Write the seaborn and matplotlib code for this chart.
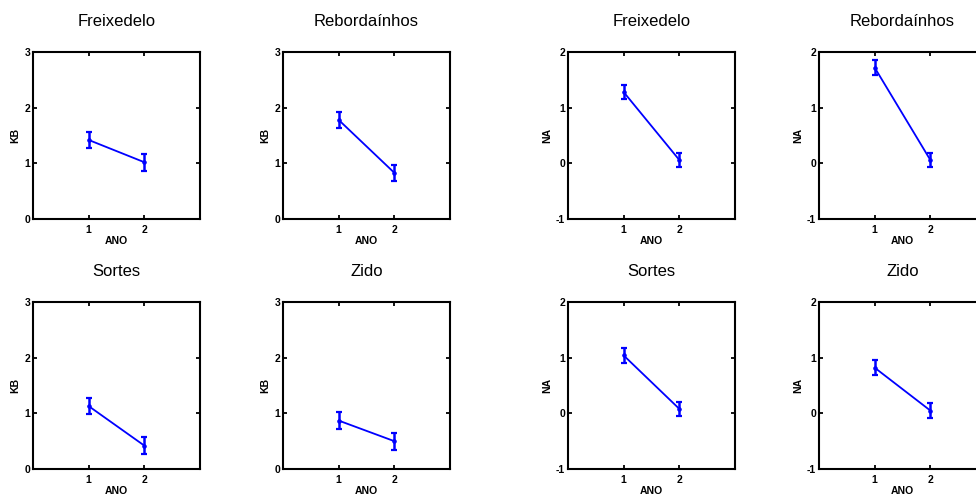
import matplotlib
matplotlib.use('Agg')
import matplotlib.pyplot as plt
import seaborn as sns
import pandas as pd
import numpy as np

# data
years = [1, 2]
sites = ['Freixedelo', 'Rebordaínhos', 'Sortes', 'Zido']

kb_mean = {
    'Freixedelo': [1.42, 1.02],
    'Rebordaínhos': [1.78, 0.83],
    'Sortes': [1.13, 0.42],
    'Zido': [0.87, 0.50],
}
kb_err = {
    'Freixedelo': [0.15, 0.155],
    'Rebordaínhos': [0.15, 0.145],
    'Sortes': [0.15, 0.15],
    'Zido': [0.15, 0.15],
}
na_mean = {
    'Freixedelo': [1.28, 0.06],
    'Rebordaínhos': [1.72, 0.06],
    'Sortes': [1.04, 0.08],
    'Zido': [0.82, 0.05],
}
na_err = {
    'Freixedelo': [0.13, 0.13],
    'Rebordaínhos': [0.14, 0.13],
    'Sortes': [0.13, 0.125],
    'Zido': [0.13, 0.13],
}

sns.set_style('ticks')
plt.rcParams['font.family'] = ['Liberation Sans', 'DejaVu Sans']
plt.rcParams['text.color'] = 'black'
plt.rcParams['axes.labelcolor'] = 'black'
plt.rcParams['xtick.color'] = 'black'
plt.rcParams['ytick.color'] = 'black'

W, H = 976, 497
fig = plt.figure(figsize=(W / 100, H / 100), dpi=100)
fig.patch.set_facecolor('white')

lefts = {'KB': [33, 283], 'NA': [568, 819]}
tops = [52, 302]
aw, ah = 167, 167

def draw_panel(ax, site, means, errs, ylab, ylim, yticks):
    df = pd.DataFrame({'ANO': years, 'val': means, 'err': errs})
    sns.lineplot(data=df, x='ANO', y='val', ax=ax, color='#0000ff',
                 linewidth=1.3, marker='o', markersize=2.5,
                 markeredgecolor='#0000ff')
    ax.errorbar(df['ANO'], df['val'], yerr=df['err'], fmt='none',
                ecolor='#0000ff', elinewidth=1.8, capsize=2.5, capthick=1.6)
    ax.set_xlim(0, 3)
    ax.set_ylim(*ylim)
    ax.set_xticks([1, 2])
    ax.set_yticks(yticks)
    ax.set_xticklabels(['1', '2'], fontsize=7.5, fontweight='bold')
    ax.set_yticklabels([str(t) for t in yticks], fontsize=7.5, fontweight='bold')
    ax.set_xlabel('ANO', fontsize=7.5, fontweight='bold', labelpad=1)
    ax.set_ylabel(ylab, fontsize=7.5, fontweight='bold', labelpad=3)
    ax.set_title(site, fontsize=12, pad=19, color='black')
    ax.tick_params(direction='in', length=3, width=1.3, top=True, right=True,
                   pad=2)
    ax.tick_params(axis='x', pad=4)
    for sp in ax.spines.values():
        sp.set_visible(True)
        sp.set_linewidth(1.5)
        sp.set_color('black')
    ax.set_facecolor('white')

for r, row_sites in enumerate([sites[:2], sites[2:]]):
    for c, site in enumerate(row_sites):
        for var, means, errs, ylim, yticks in [
            ('KB', kb_mean, kb_err, (0, 3), [0, 1, 2, 3]),
            ('NA', na_mean, na_err, (-1, 2), [-1, 0, 1, 2]),
        ]:
            x0 = lefts[var][c]
            y0 = tops[r]
            ax = fig.add_axes([x0 / W, (H - y0 - ah) / H, aw / W, ah / H])
            draw_panel(ax, site, means[site], errs[site], var, ylim, yticks)

fig.savefig('out.png', dpi=100, facecolor='white')
